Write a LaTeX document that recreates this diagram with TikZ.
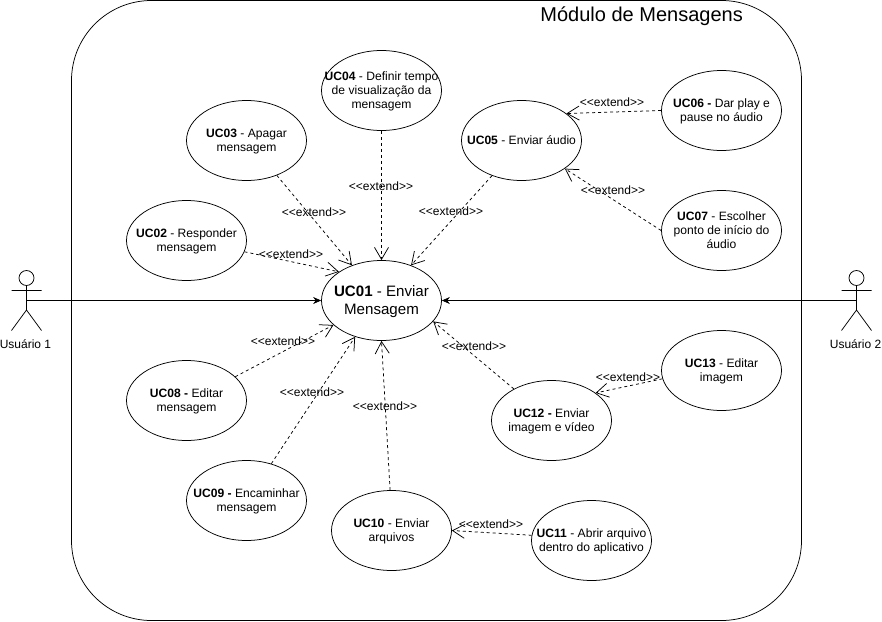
\documentclass[tikz,border=0pt]{standalone}
\usepackage{fontspec}
\setmainfont{Liberation Sans}
\usetikzlibrary{arrows.meta,shapes.geometric}
\newcommand{\uct}[1]{\raisebox{-1pt}[\height][\depth]{\begin{tabular}{@{}c@{}}#1\end{tabular}}}
\begin{document}
\begin{tikzpicture}[x=1pt,y=-1pt,
  uc/.style={draw,line width=0.75pt,ellipse,minimum width=120pt,minimum height=80pt,inner xsep=-40pt,inner ysep=-20pt,font=\fontsize{12.1}{14}\selectfont},
  ext/.style={draw,line width=0.75pt,dash pattern=on 3pt off 3pt,-{Straight Barb[length=12pt,width=14pt,line width=0.75pt]}},
  assoc/.style={draw,line width=0.75pt,-{Stealth[length=8pt,width=7pt]}},
  lab/.style={font=\fontsize{12}{14}\selectfont,inner sep=0pt},
  actorlab/.style={font=\fontsize{12}{14}\selectfont,inner sep=0pt},
  actorline/.style={line width=0.75pt}]
\useasboundingbox (0,0) rectangle (882,621);
\draw[line width=0.75pt] (71.5,80.5) arc[start angle=180,end angle=270,radius=80] -- (721.5,0.5) arc[start angle=-90,end angle=0,radius=80] -- (801.5,540.5) arc[start angle=0,end angle=90,radius=80] -- (151.5,620.5) arc[start angle=90,end angle=180,radius=80] -- cycle;
\node[font=\fontsize{20}{24}\selectfont,anchor=east,inner sep=0pt] (title) at (743,16) {Módulo de Mensagens};
% actors
\draw[actorline] (26.5,278) circle (7.5);
\draw[actorline] (26.5,285.5) -- (26.5,310) (11.5,290.5) -- (41.5,290.5) (11.5,330.5) -- (26.5,310) -- (41.5,330.5);
\node[actorlab] (lab1) at (25.5,344.5) {Usuário 1};
\coordinate (actor1) at (26.5,300.5);
\draw[actorline] (856.5,278) circle (7.5);
\draw[actorline] (856.5,285.5) -- (856.5,310) (841.5,290.5) -- (871.5,290.5) (841.5,330.5) -- (856.5,310) -- (871.5,330.5);
\node[actorlab] (lab2) at (855.5,344.5) {Usuário 2};
\coordinate (actor2) at (856.5,300.5);
% use cases
\node[uc,font=\fontsize{15.1}{18}\selectfont] (uc01) at (381.5,300.5) {\uct{\textbf{UC01} - Enviar\\Mensagem}};
\node[uc] (uc02) at (186.5,240.5) {\uct{\textbf{UC02} - Responder\\mensagem}};
\node[uc] (uc03) at (246.5,140.5) {\uct{\textbf{UC03} - Apagar\\mensagem}};
\node[uc] (uc04) at (381.5,90.5) {\uct{\textbf{UC04} - Definir tempo\\de visualização da\\mensagem}};
\node[uc] (uc05) at (521.5,140.5) {\uct{\textbf{UC05} - Enviar áudio}};
\node[uc] (uc06) at (721.5,110.5) {\uct{\textbf{UC06 -} Dar play e\\pause no áudio}};
\node[uc] (uc07) at (721.5,230.5) {\uct{\textbf{UC07} - Escolher\\ponto de início do\\áudio}};
\node[uc] (uc08) at (186.5,400.5) {\uct{\textbf{UC08 -} Editar\\mensagem}};
\node[uc] (uc09) at (246.5,500.5) {\uct{\textbf{UC09 -} Encaminhar\\mensagem}};
\node[uc] (uc10) at (391.5,530.5) {\uct{\textbf{UC10} - Enviar\\arquivos}};
\node[uc] (uc11) at (591.5,540.5) {\uct{\textbf{UC11} - Abrir arquivo\\dentro do aplicativo}};
\node[uc] (uc12) at (551.5,420.5) {\uct{\textbf{UC12 -} Enviar\\imagem e vídeo}};
\node[uc] (uc13) at (721.5,370.5) {\uct{\textbf{UC13} - Editar\\imagem}};
% connectors
\draw[assoc] (actor1) -- (uc01.west);
\draw[assoc] (actor2) -- (uc01.east);
\draw[ext] (uc02.-11) -- (uc01.146.8);
\draw[ext] (uc03.-49.3) -- (uc01.130);
\draw[ext] (uc04.-90) -- (uc01.90);
\draw[ext] (uc05.-130.7) -- (uc01.50);
\draw[ext] (uc06.180) -- (uc05.31.7);
\draw[ext] (uc07.180) -- (uc05.-33.2);
\draw[ext] (uc08.26.8) -- (uc01.-153.7);
\draw[ext] (uc09.56.5) -- (uc01.-126.3);
\draw[ext] (uc10.92) -- (uc01.-90);
\draw[ext] (uc11.175.7) -- (uc10.0);
\draw[ext] (uc12.140.5) -- (uc01.-22.8);
\draw[ext] (uc13.-172) -- (uc12.32.6);
% labels
\node[lab] (e1) at (381,186.7) {<{}<extend>{}>};
\node[lab] (e2) at (314,212.7) {<{}<extend>{}>};
\node[lab] (e3) at (451,211.7) {<{}<extend>{}>};
\node[lab] (e4) at (291,254.7) {<{}<extend>{}>};
\node[lab] (e5) at (283,341.7) {<{}<extend>{}>};
\node[lab] (e6) at (312,392.7) {<{}<extend>{}>};
\node[lab] (e7) at (385,406.7) {<{}<extend>{}>};
\node[lab] (e8) at (474,346.7) {<{}<extend>{}>};
\node[lab] (e9) at (612,102.7) {<{}<extend>{}>};
\node[lab] (e10) at (613,190.7) {<{}<extend>{}>};
\node[lab] (e11) at (628,377.7) {<{}<extend>{}>};
\node[lab] (e12) at (491,524.7) {<{}<extend>{}>};
\end{tikzpicture}
\end{document}
